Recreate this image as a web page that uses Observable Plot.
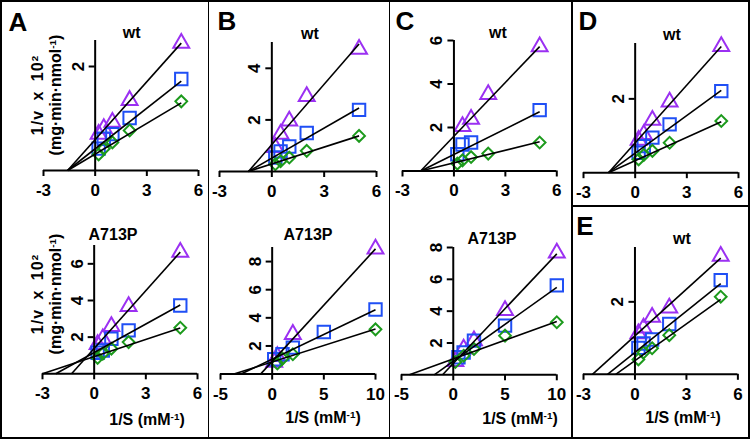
<!DOCTYPE html>
<html><head><meta charset="utf-8">
<script src="https://cdn.jsdelivr.net/npm/d3@7"></script>
<script src="https://cdn.jsdelivr.net/npm/@observablehq/plot@0.6"></script>
<style>
body{margin:0;background:#fff}
#fig{position:relative;width:750px;height:439px;overflow:hidden;background:#fff;font-family:Arial,"Liberation Sans",sans-serif;font-weight:bold;color:#000}
.frame{position:absolute;left:0;top:0;width:750px;height:439px;box-sizing:border-box;border:2px solid #000}
.vl{position:absolute;top:0;height:439px;background:#000}
.hl{position:absolute;height:2px;background:#000}
.t{position:absolute;transform:translate(-50%,-50%);white-space:nowrap;line-height:1}
.r{transform:translate(-50%,-50%) rotate(-90deg)}
.wide{letter-spacing:1px;word-spacing:4px}
sup{font-size:0.62em;vertical-align:0.55em;line-height:0}
</style></head>
<body><div id="fig"></div>
<script>
// ---- data ----
const xWt = [0.2, 0.5, 1, 2, 5];
const xMut = [0.2, 0.5, 1, 2, 5, 10];
const ticks6 = [-3, 0, 3, 6];
const ticks10 = [-5, 0, 5, 10];

// Panel A, wt
const aWtTri = [0.70, 0.81, 0.93, 1.35, 2.45];
const aWtSq  = [0.42, 0.61, 0.70, 1.01, 1.76];
const aWtDia = [0.31, 0.42, 0.54, 0.77, 1.33];
const aWtSlope = [0.371, 0.260, 0.197];
const aWtIcpt  = [0.594, 0.417, 0.315];
// Panel A, A713P
const aMutTri = [1.60, 1.91, 2.58, 3.68, 6.64];
const aMutSq  = [1.15, 1.27, 1.91, 2.37, 3.73];
const aMutDia = [0.87, 1.10, 1.37, 1.73, 2.51];
const aMutSlope = [1.052, 0.519, 0.3125];
const aMutIcpt  = [1.38, 1.157, 0.94];
// Panel B, wt
const bWtTri = [0.93, 1.45, 1.96, 2.91, 4.74];
const bWtSq  = [0.54, 0.78, 0.97, 1.49, 2.39];
const bWtDia = [0.28, 0.40, 0.54, 0.80, 1.38];
const bWtSlope = [0.779, 0.388, 0.2177];
const bWtIcpt  = [1.044, 0.52, 0.292];
// Panel B, A713P
const bMutTri = [0.85, 1.25, null, 2.83, null, 8.90];
const bMutSq  = [1.06, null, 1.41, 1.88, 2.99, 4.59];
const bMutDia = [null, 0.75, 1.10, 1.41, null, 3.18];
const bMutSlope = [0.80, 0.352, 0.234];
const bMutIcpt  = [0.90, 1.06, 0.865];
// Panel C, wt
const cWtTri = [null, 2.05, 2.38, 3.52, 5.72];
const cWtSq  = [0.77, 1.22, 1.31, null, 2.80];
const cWtDia = [0.34, 0.49, 0.64, 0.80, 1.31];
const cWtSlope = [0.824, 0.392, 0.193];
const cWtIcpt  = [1.60, 0.76, 0.375];
// Panel C, A713P
const cMutTri = [0.84, null, 1.62, 2.15, 4.04, 7.66];
const cMutSq  = [null, 1.10, 1.40, 2.15, 3.09, 5.62];
const cMutDia = [0.80, null, 1.20, 1.62, 2.46, 3.30];
const cMutSlope = [0.689, 0.4645, 0.2354];
const cMutIcpt  = [0.71, 0.855, 0.996];
// Panel D, wt
const dWtTri = [0.88, 1.04, 1.42, 1.92, 3.42];
const dWtSq  = [0.54, 0.72, 0.95, 1.31, 2.21];
const dWtDia = [0.36, 0.48, 0.59, 0.81, 1.40];
const dWtSlope = [0.522, 0.3405, 0.2107];
const dWtIcpt  = [0.809, 0.528, 0.327];
// Panel E, wt
const eWtTri = [1.12, 1.28, 1.58, 1.83, 3.26];
const eWtSq  = [0.73, 0.85, 0.96, 1.39, 2.60];
const eWtDia = [0.41, 0.60, 0.72, 1.08, 2.14];
const eWtSlope = [0.429, 0.379, 0.338];
const eWtIcpt  = [1.064, 0.606, 0.379];

const seriesSymbols = ["triangle", "square", "diamond2"];
const seriesColors = ["#9b30f2", "#1f4ff5", "#1c9a1c"];
const seriesR = [5.9, 7.0, 5.3];

// ---- layout (pixel boxes: x0 = x-domain min, x1 = x-domain max, y0 = y of 0, y1 = y of max) ----
const panels = [
  {series:[aWtTri,aWtSq,aWtDia], xs:xWt, slope:aWtSlope, icpt:aWtIcpt, xd:[-3,6], ymax:2.5, xt:ticks6, yt:[2], xEnd:5, box:[42.5,197.5,170,40]},
  {series:[aMutTri,aMutSq,aMutDia], xs:xWt, slope:aMutSlope, icpt:aMutIcpt, xd:[-3,6], ymax:7, xt:ticks6, yt:[2,4,6], xEnd:5, box:[42,197,373.3,245]},
  {series:[bWtTri,bWtSq,bWtDia], xs:xWt, slope:bWtSlope, icpt:bWtIcpt, xd:[-3,6], ymax:5, xt:ticks6, yt:[2,4], xEnd:5, box:[219,376,170.7,41.7]},
  {series:[bMutTri,bMutSq,bMutDia], xs:xMut, slope:bMutSlope, icpt:bMutIcpt, xd:[-5,10], ymax:9, xt:ticks10, yt:[2,4,6,8], xEnd:10, box:[220,375,373.3,246.7]},
  {series:[cWtTri,cWtSq,cWtDia], xs:xWt, slope:cWtSlope, icpt:cWtIcpt, xd:[-3,6], ymax:6, xt:ticks6, yt:[2,4,6], xEnd:5, box:[401.7,556,170.5,40]},
  {series:[cMutTri,cMutSq,cMutDia], xs:xMut, slope:cMutSlope, icpt:cMutIcpt, xd:[-5,10], ymax:8, xt:ticks10, yt:[2,4,6,8], xEnd:10, box:[400.7,556,374,246.7]},
  {series:[dWtTri,dWtSq,dWtDia], xs:xWt, slope:dWtSlope, icpt:dWtIcpt, xd:[-3,6], ymax:3.5, xt:ticks6, yt:[2], xEnd:5, box:[583.3,738.3,171.7,42.5]},
  {series:[eWtTri,eWtSq,eWtDia], xs:xWt, slope:eWtSlope, icpt:eWtIcpt, xd:[-3,6], ymax:3.5, xt:ticks6, yt:[2], xEnd:5, box:[583.3,737.7,373.3,246.5]}
];

const fig = document.getElementById("fig");
const FONT = 'Arial, "Liberation Sans", sans-serif';

for (const p of panels) {
  const [x0, x1, y0, y1] = p.box;
  const mL = 34, mR = 16, mT = 14, mB = 34;
  const width = x1 - x0 + mL + mR;
  const height = y0 - y1 + mT + mB;
  const dotMarks = p.series.map((vals, si) => {
    const pts = [];
    vals.forEach((v, i) => { if (v != null) pts.push({x: p.xs[i], y: v}); });
    return Plot.dot(pts, {x: "x", y: "y", symbol: seriesSymbols[si], r: seriesR[si], stroke: seriesColors[si], strokeWidth: 2, fill: "none"});
  });
  const fits = p.slope.map((m, si) => {
    const b = p.icpt[si];
    const xs = Math.max(p.xd[0], -b / m);
    return {x1: xs, y1: b + m * xs, x2: p.xEnd, y2: b + m * p.xEnd};
  });
  const svg = Plot.plot({
    width, height, marginLeft: mL, marginRight: mR, marginTop: mT, marginBottom: mB,
    x: {domain: p.xd, axis: null},
    y: {domain: [0, p.ymax], axis: null},
    style: {background: "transparent", overflow: "visible", fontFamily: FONT},
    marks: [
      ...dotMarks,
      Plot.link(fits, {x1: "x1", y1: "y1", x2: "x2", y2: "y2", stroke: "black", strokeWidth: 1.6}),
      Plot.ruleY([0], {x1: p.xd[0], x2: p.xd[1], stroke: "black", strokeWidth: 2}),
      Plot.ruleX([0], {y1: 0, y2: p.ymax, stroke: "black", strokeWidth: 2}),
      Plot.ruleX(p.xt, {x: d => d, y1: 0, y2: 0, insetBottom: -6, stroke: "black", strokeWidth: 2}),
      Plot.ruleY(p.yt, {y: d => d, x1: 0, x2: 0, insetLeft: -6, stroke: "black", strokeWidth: 2}),
      Plot.text(p.xt, {x: d => d, y: 0, text: d => String(d), dy: 20, fontSize: 17, fontWeight: "bold", fill: "black"}),
      Plot.text(p.yt, {x: 0, y: d => d, text: d => String(d), dx: -17, rotate: -90, fontSize: 17, fontWeight: "bold", fill: "black"})
    ]
  });
  svg.style.position = "absolute";
  svg.style.left = (x0 - mL) + "px";
  svg.style.top = (y1 - mT) + "px";
  fig.appendChild(svg);
}

// ---- frame and dividers ----
function addDiv(cls, css) { const d = document.createElement("div"); d.className = cls; Object.assign(d.style, css); fig.appendChild(d); return d; }
addDiv("frame", {});
addDiv("vl", {left: "207.5px", width: "1.6px"});
addDiv("vl", {left: "388.5px", width: "1.6px"});
addDiv("vl", {left: "570.5px", width: "2.2px"});
addDiv("hl", {left: "571px", width: "179px", top: "205px"});

// ---- texts ----
function addText(html, x, y, size, rotate, extra) {
  const d = addDiv("t" + (rotate ? " r" : "") + (extra ? " " + extra : ""), {left: x + "px", top: y + "px", fontSize: size + "px"});
  d.innerHTML = html;
}
const panelLetters = [["A", 18, 22], ["B", 227, 21], ["C", 405, 21], ["D", 588, 21], ["E", 585, 226]];
panelLetters.forEach(([s, x, y]) => addText(s, x, y, 26));
const subTitles = [["wt", 131.7, 33], ["wt", 310, 34], ["wt", 498, 33], ["wt", 672, 35], ["wt", 682, 239],
  ["A713P", 113, 235], ["A713P", 308, 235], ["A713P", 492, 239]];
subTitles.forEach(([s, x, y]) => addText(s, x, y, 16));
const xTitle = "1/S (mM<sup>-1</sup>)";
[[147, 420], [323, 418], [520, 419], [683, 418]].forEach(([x, y]) => addText(xTitle, x, y, 16));
const yTitle1 = "1/v x 10<sup>2</sup>";
const yTitle2 = "(mg·min·nmol<sup>-1</sup>)";
[[95], [294]].forEach(([y]) => { addText(yTitle1, 38, y, 16, true, "wide"); addText(yTitle2, 56, y, 16, true); });
</script></body></html>
